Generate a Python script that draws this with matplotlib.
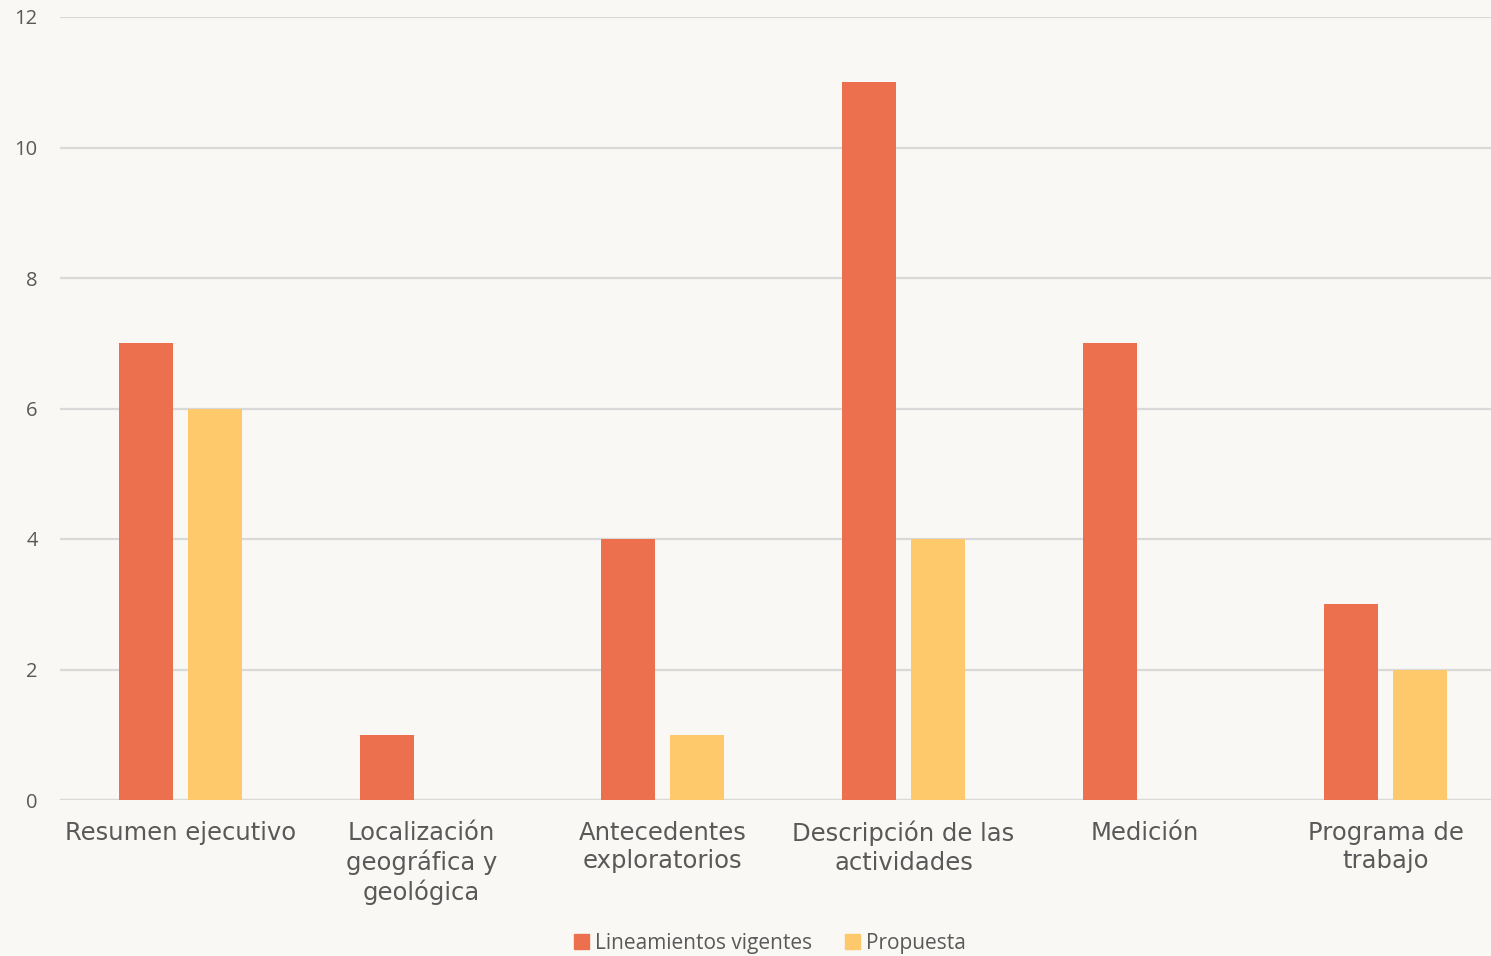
import numpy as np
import matplotlib.pyplot as plt
from matplotlib.patches import Patch

categorias = ["Resumen ejecutivo", "Localización\ngeográfica y\ngeológica",
              "Antecedentes\nexploratorios", "Descripción de las\nactividades",
              "Medición", "Programa de\ntrabajo"]
vigentes = [7, 1, 4, 11, 7, 3]
propuesta = [6, 0, 1, 4, 0, 2]
yticks = [0, 2, 4, 6, 8, 10, 12]

c_vig = "#EC704E"
c_prop = "#FEC96A"
gris = "#595959"
bg = "#FAF8F5"

fig = plt.figure(figsize=(14.91, 9.56), dpi=100, facecolor=bg)
ax = fig.add_axes([60 / 1491, 156 / 956, 1446 / 1491, 783 / 956])
ax.set_facecolor("none")

x = np.arange(len(categorias))
w = 0.224
ax.bar(x - 0.142, vigentes, w, color=c_vig, zorder=3)
ax.bar(x + 0.142, propuesta, w, color=c_prop, zorder=3)

ax.set_xlim(-0.5, len(categorias) - 0.5)
ax.set_ylim(0, 12)
ax.set_yticks(yticks)
ax.grid(axis="y", color="#D9D9D9", linewidth=1.6, zorder=0)
ax.tick_params(axis="both", length=0)
for s in ax.spines.values():
    s.set_visible(False)
ax.axhline(0, color="#D9D9D9", linewidth=1.6, zorder=2)

ax.set_yticklabels([str(v) for v in yticks], fontsize=14.5, color=gris,
                   family="Open Sans")
ax.tick_params(axis="y", pad=16)

ax.set_xticks(x)
ax.set_xticklabels(categorias, fontsize=17.5, color=gris, family="DejaVu Sans",
                   linespacing=1.22, va="top")
ax.tick_params(axis="x", pad=15)

handles = [Patch(color=c_vig, label="Lineamientos vigentes"),
           Patch(color=c_prop, label="Propuesta")]
fig.legend(handles=handles, loc="center", bbox_to_anchor=(770 / 1491, 1 - 943 / 956),
           ncol=2, frameon=False, handlelength=0.7, handleheight=0.7,
           handletextpad=0.3, columnspacing=1.6, labelcolor=gris,
           prop={"family": "Open Sans", "size": 15})

fig.savefig("out.png", dpi=100, facecolor=bg)
